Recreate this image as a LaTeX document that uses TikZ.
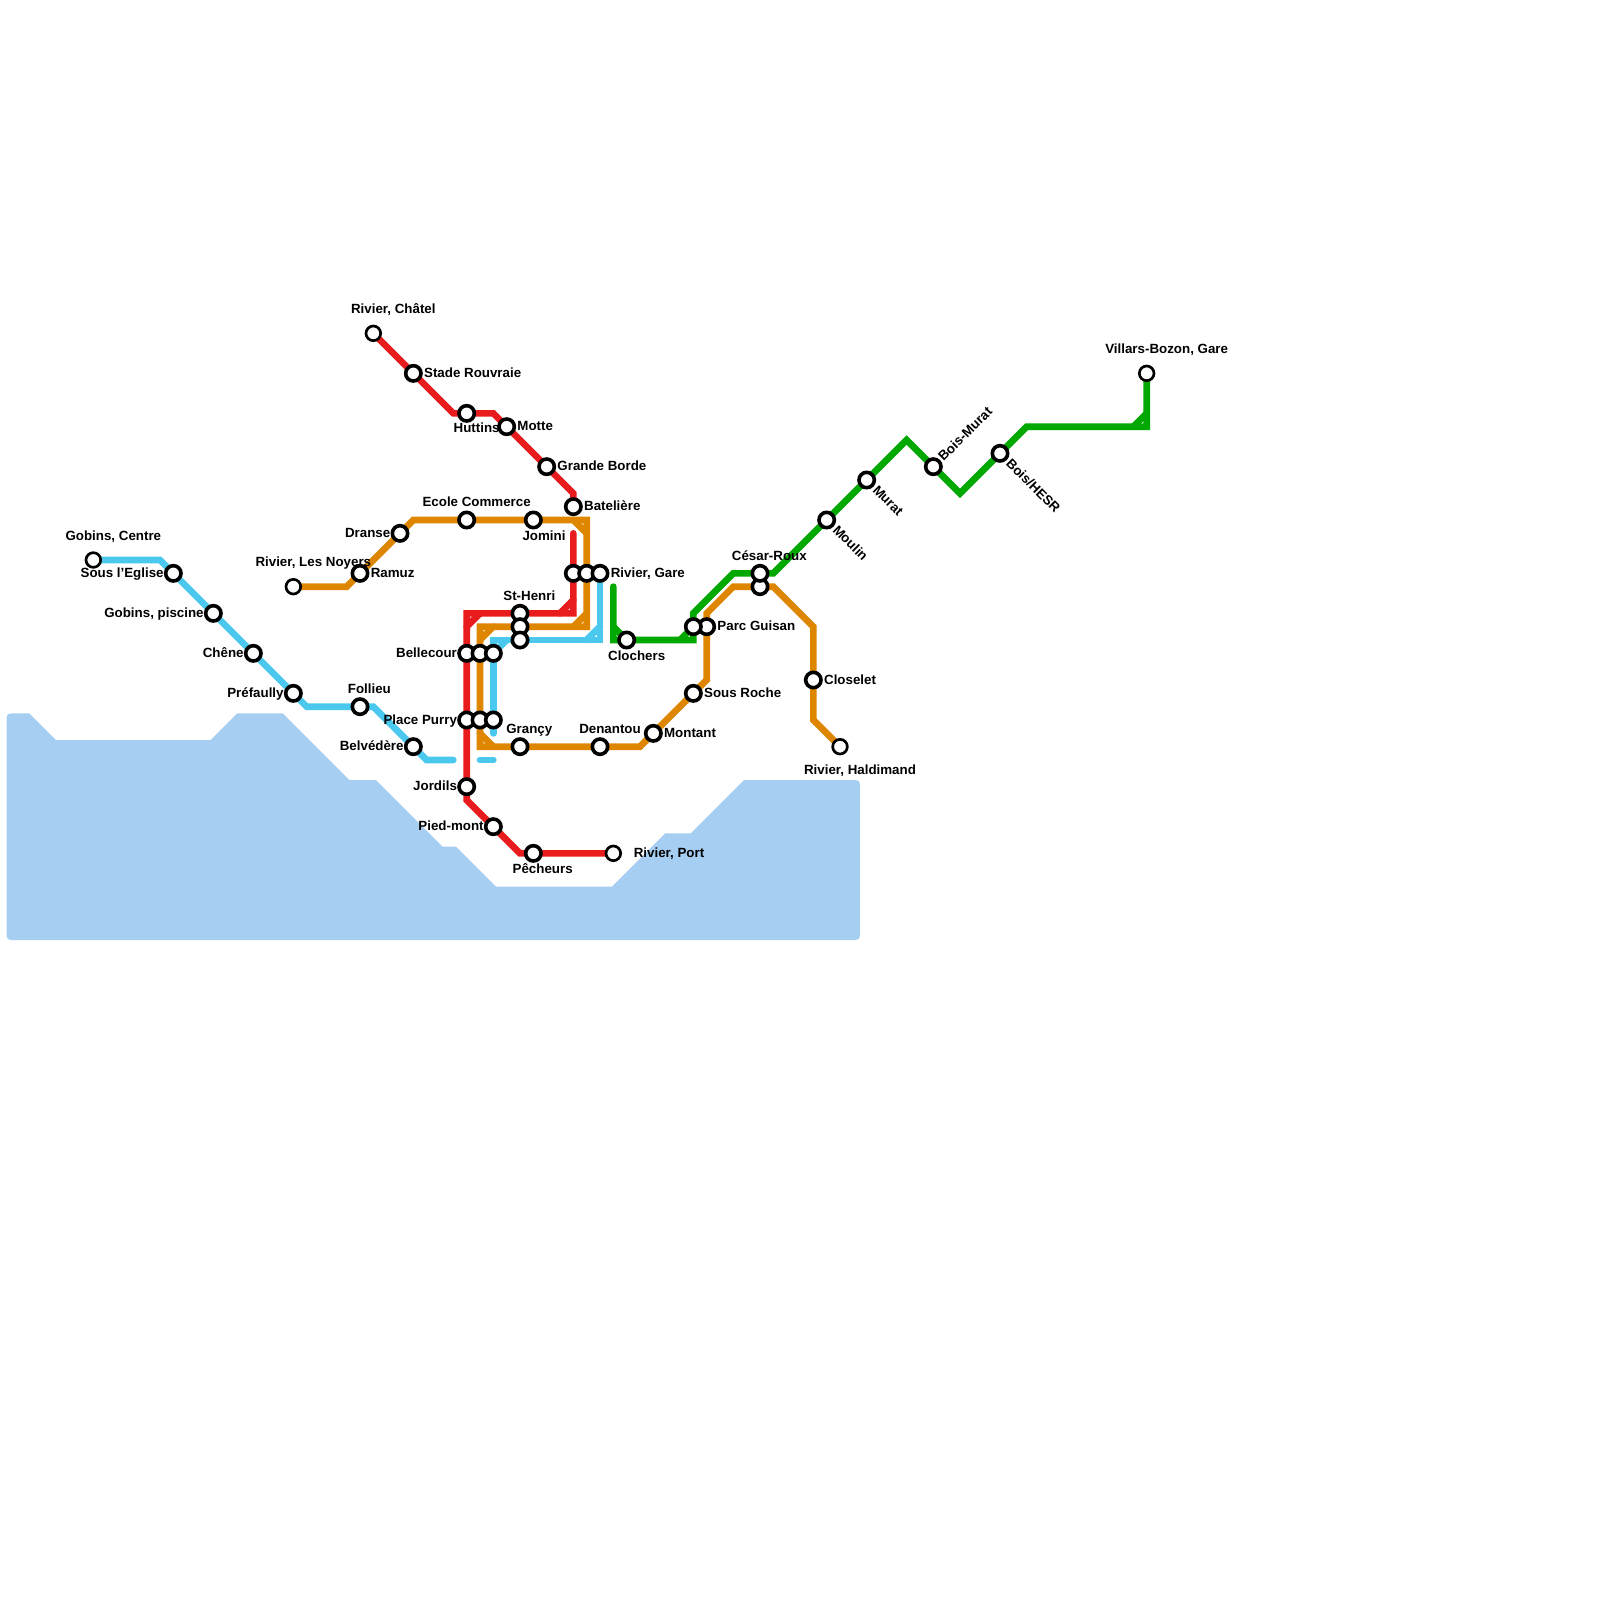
\documentclass[tikz,border=0pt]{standalone}
\usepackage{fontspec}
\setmainfont{Liberation Sans}
\usepackage{xcolor}
\usetikzlibrary{positioning, backgrounds}
\definecolor{waterblue}{HTML}{A6CDF2}
\definecolor{linered}{HTML}{E81C1C}
\definecolor{lineorange}{HTML}{DF8600}
\definecolor{lineblue}{HTML}{4AC8EE}
\definecolor{linegreen}{HTML}{00A800}

\begin{document}
\begin{tikzpicture}[
  x=10pt, y=-10pt,
  font=\fontsize{10pt}{12pt}\selectfont\bfseries,
  sta/.style={draw=black, fill=white, circle, line width=2.7pt, minimum size=11.5pt, inner sep=0pt},
  termsta/.style={draw=black, fill=white, circle, line width=2pt, minimum size=11pt, inner sep=0pt},
  lbl/.style={inner sep=0pt, text height=7pt, text depth=1pt},
  metro/.style={line width=5pt, line join=miter, line cap=round},
  redl/.style={metro, linered},
  orangel/.style={metro, lineorange},
  bluel/.style={metro, lineblue},
  greenl/.style={metro, linegreen},
]
\useasboundingbox (0,0) rectangle (120,120);
% red line stations
\node[termsta] (chatel) at (28,25) {};
\node[sta] (stade) at (31,28) {};
\node[sta] (huttins) at (35,31) {};
\node[sta] (motte) at (38,32) {};
\node[sta] (grandeborde) at (41,35) {};
\node[sta] (bateliere) at (43,38) {};
\node[sta] (gare1) at (43,43) {};
\node[sta] (henri) at (39,46) {};
\node[sta] (bell1) at (35,49) {};
\node[sta] (purry1) at (35,54) {};
\node[sta] (jordils) at (35,59) {};
\node[sta] (piedmont) at (37,62) {};
\node[sta] (pecheurs) at (40,64) {};
\node[termsta] (port) at (46,64) {};
% orange line stations
\node[termsta] (noyers) at (22,44) {};
\node[sta] (ramuz) at (27,43) {};
\node[sta] (dranse) at (30,40) {};
\node[sta] (ecole) at (35,39) {};
\node[sta] (jomini) at (40,39) {};
\node[sta] (gare2) at (44,43) {};
\node[sta] (henri2) at (39,47) {};
\node[sta] (bell2) at (36,49) {};
\node[sta] (purry2) at (36,54) {};
\node[sta] (grancy) at (39,56) {};
\node[sta] (denantou) at (45,56) {};
\node[sta] (montant) at (49,55) {};
\node[sta] (sousroche) at (52,52) {};
\node[sta] (guisan) at (53,47) {};
\node[sta] (cesar2) at (57,44) {};
\node[sta] (closelet) at (61,51) {};
\node[termsta] (haldimand) at (63,56) {};
% blue line stations
\node[termsta] (gobins) at (7,42) {};
\node[sta] (eglise) at (13,43) {};
\node[sta] (piscine) at (16,46) {};
\node[sta] (chene) at (19,49) {};
\node[sta] (prefaully) at (22,52) {};
\node[sta] (follieu) at (27,53) {};
\node[sta] (belvedere) at (31,56) {};
\node[sta] (gare3) at (45,43) {};
\node[sta] (henri3) at (39,48) {};
\node[sta] (bell3) at (37,49) {};
\node[sta] (purry3) at (37,54) {};
% green line stations
\node[sta] (clochers) at (47,48) {};
\node[sta] (guisan2) at (52,47) {};
\node[sta] (cesar) at (57,43) {};
\node[sta] (moulin) at (62,39) {};
\node[sta] (murat) at (65,36) {};
\node[sta] (boismurat) at (70,35) {};
\node[sta] (boishesr) at (75,34) {};
\node[termsta] (villars) at (86,28) {};
% free line ends
\coordinate (redstart) at (43,40);
\coordinate (bluegap1) at (34,57);
\coordinate (bluegap2) at (36,57);
\coordinate (bluegap3) at (37,57);
\coordinate (blueend) at (37,55);
\coordinate (greenstart) at (46,44);
% labels beside the stations
\node[lbl, right=0.8pt of stade] (lstade) {Stade Rouvraie};
\node[lbl, right=0.8pt of motte] (lmotte) {Motte};
\node[lbl, right=0.8pt of grandeborde] (lgrandeborde) {Grande Borde};
\node[lbl, right=0.8pt of bateliere] (lbateliere) {Batelière};
\node[lbl, right=0.8pt of gare3] (lgare) {Rivier, Gare};
\node[lbl, right=0.8pt of ramuz] (lramuz) {Ramuz};
\node[lbl, right=0.8pt of guisan] (lguisan) {Parc Guisan};
\node[lbl, right=0.8pt of sousroche] (lsousroche) {Sous Roche};
\node[lbl, right=0.8pt of montant] (lmontant) {Montant};
\node[lbl, right=0.8pt of closelet] (lcloselet) {Closelet};
\node[lbl, right=8.7pt of port] (lport) {Rivier, Port};
\node[lbl, left=0pt of eglise] (leglise) {Sous l'Eglise};
\node[lbl, left=0pt of piscine] (lpiscine) {Gobins, piscine};
\node[lbl, left=0pt of chene] (lchene) {Chêne};
\node[lbl, left=0pt of prefaully] (lprefaully) {Préfaully};
\node[lbl, left=0pt of dranse] (ldranse) {Dranse};
\node[lbl, left=0pt of bell1] (lbell) {Bellecour};
\node[lbl, left=0pt of purry1] (lpurry) {Place Purry};
\node[lbl, left=0pt of belvedere] (lbelvedere) {Belvédère};
\node[lbl, left=0pt of jordils] (ljordils) {Jordils};
\node[lbl, left=0pt of piedmont] (lpiedmont) {Pied-mont};
% labels above and below
\node[lbl] (lhuttins) at (35.75,32.1) {Huttins};
\node[lbl] (lchatel) at (29.5,23.2) {Rivier, Châtel};
\node[lbl] (lgobins) at (8.5,40.2) {Gobins, Centre};
\node[lbl] (lnoyers) at (23.5,42.2) {Rivier, Les Noyers};
\node[lbl] (lfollieu) at (27.7,51.7) {Follieu};
\node[lbl] (lecole) at (35.75,37.7) {Ecole Commerce};
\node[lbl] (ljomini) at (40.8,40.25) {Jomini};
\node[lbl] (lhenri) at (39.7,44.75) {St-Henri};
\node[lbl] (lclochers) at (47.75,49.2) {Clochers};
\node[lbl] (lgrancy) at (39.7,54.7) {Grançy};
\node[lbl] (ldenantou) at (45.75,54.7) {Denantou};
\node[lbl] (lhaldimand) at (64.5,57.75) {Rivier, Haldimand};
\node[lbl] (lpecheurs) at (40.7,65.2) {Pêcheurs};
\node[lbl] (lcesar) at (57.7,41.7) {César-Roux};
\node[lbl] (lvillars) at (87.5,26.2) {Villars-Bozon, Gare};
% slanted labels
\node[lbl, rotate=45, anchor=west] (lboismurat) at (70.55,34.45) {Bois-Murat};
\node[lbl, rotate=-45, anchor=west] (lmoulin) at (62.6,39.6) {Moulin};
\node[lbl, rotate=-45, anchor=west] (lmurat) at (65.6,36.6) {Murat};
\node[lbl, rotate=-45, anchor=west] (lboishesr) at (75.6,34.6) {Bois/HESR};
\begin{scope}[on background layer]
% lake
\fill[waterblue] (2.2,53.5) -- (4.2,55.5) -- (15.8,55.5) -- (17.8,53.5) -- (21.2,53.5) -- (26.2,58.5) -- (28.2,58.5)
  -- (33.2,63.5) -- (34.2,63.5) -- (37.2,66.5) -- (45.9,66.5) -- (49.9,62.5) -- (51.8,62.5) -- (55.8,58.5)
  [rounded corners=3pt] -- (64.5,58.5) -- (64.5,70.5) -- (0.5,70.5) -- (0.5,53.5) [sharp corners] -- cycle;
% red line
\draw[redl] (chatel.center) -- (34,31) -- (37,31) -- (grandeborde.center) -- (43,37) -- (bateliere.center);
\draw[redl] (redstart) -- (43,46) -- (35,46) -- (35,60) -- (39,64) -- (port.center);
\draw[redl] (42,46) -- (43,45);
\draw[redl] (35,47) -- (36,46);
% orange line
\draw[orangel] (noyers.center) -- (26,44) -- (31,39) -- (44,39) -- (44,47) -- (36,47) -- (36,56) -- (48,56)
  -- (53,51) -- (53,46) -- (55,44) -- (58,44) -- (61,47) -- (61,54) -- (haldimand.center);
\draw[orangel] (43,39) -- (44,40);
\draw[orangel] (43,47) -- (44,46);
\draw[orangel] (36,48) -- (37,47);
\draw[orangel] (36,55) -- (37,56);
% blue line
\draw[bluel] (gobins.center) -- (12,42) -- (23,53) -- (28,53) -- (32,57) -- (bluegap1);
\draw[bluel] (bluegap2) -- (bluegap3);
\draw[bluel] (blueend) -- (37,48) -- (45,48) -- (gare3.center);
\draw[bluel] (37,49) -- (38,48);
\draw[bluel] (44,48) -- (45,47);
% green line
\draw[greenl] (greenstart) -- (46,48) -- (52,48) -- (52,46) -- (55,43) -- (58,43) -- (68,33) -- (72,37) -- (77,32)
  -- (86,32) -- (villars.center);
\draw[greenl] (46,47) -- (47,48);
\draw[greenl] (51,48) -- (52,47);
\draw[greenl] (85,32) -- (86,31);
\end{scope}
\end{tikzpicture}
\end{document}
